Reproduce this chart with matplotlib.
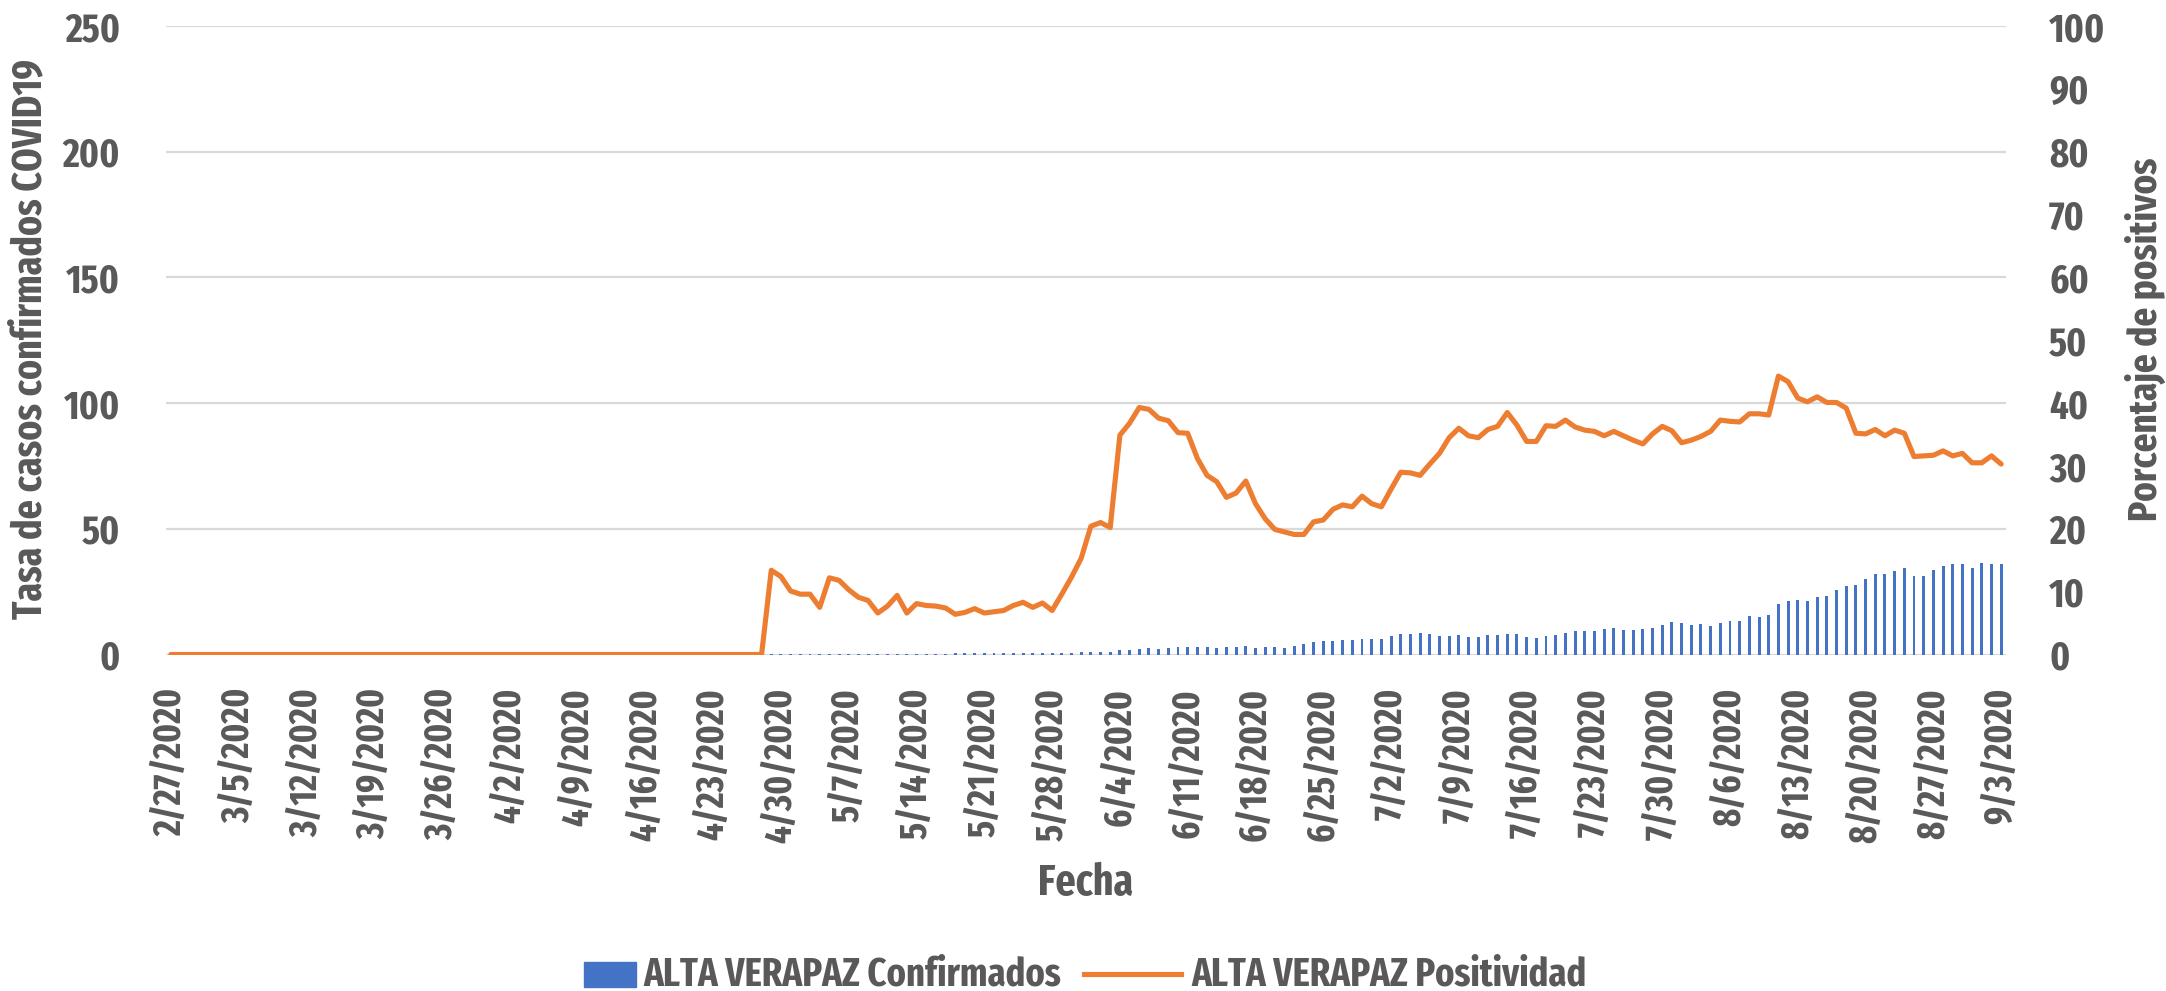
import numpy as np
import pandas as pd
import matplotlib
matplotlib.use("Agg")
import matplotlib.pyplot as plt
from matplotlib.patches import Rectangle
from matplotlib.lines import Line2D

plt.rcParams['font.family'] = ['Fira Sans Extra Condensed', 'Barlow Condensed', 'DejaVu Sans']
plt.rcParams['font.stretch'] = 'condensed'
plt.rcParams['font.weight'] = 'bold'

# ---------------- data ----------------
dates = pd.date_range('2020-02-27', '2020-09-03', freq='D')

tick_labels = ["2/27/2020", "3/5/2020", "3/12/2020", "3/19/2020", "3/26/2020",
               "4/2/2020", "4/9/2020", "4/16/2020", "4/23/2020", "4/30/2020",
               "5/7/2020", "5/14/2020", "5/21/2020", "5/28/2020", "6/4/2020",
               "6/11/2020", "6/18/2020", "6/25/2020", "7/2/2020", "7/9/2020",
               "7/16/2020", "7/23/2020", "7/30/2020", "8/6/2020", "8/13/2020",
               "8/20/2020", "8/27/2020", "9/3/2020"]

# Tasa de casos confirmados (left axis)
confirmados = ([0.0] * 62 +
    [0.05, 0.05, 0.05, 0.05, 0.05, 0.05,                 # 4/29 - 5/4
     0.15, 0.15, 0.15, 0.15, 0.15, 0.15, 0.15,           # 5/5 - 5/11
     0.3, 0.3, 0.3, 0.3, 0.3, 0.3,                       # 5/12 - 5/17
     0.4, 0.4, 0.4, 0.4, 0.4, 0.4,                       # 5/18 - 5/23
     0.5, 0.5, 0.5, 0.5, 0.7, 0.7, 0.7, 0.9, 1.0,        # 5/24 - 6/1
     0.9, 0.9, 1.9, 1.9, 2.1, 2.4, 2.0, 2.4, 2.8, 2.8,   # 6/2 - 6/11
     3.1, 2.8, 2.5, 2.8, 2.9, 3.3, 2.4, 2.8, 2.8, 2.4,   # 6/12 - 6/21
     3.3, 4.3, 4.9, 5.2, 5.5, 5.7, 5.7, 6.0, 6.3, 6.3,   # 6/22 - 7/1
     7.4, 8.2, 8.2, 8.5, 8.2, 7.2, 7.2, 7.6, 7.0, 6.8,   # 7/2 - 7/11
     7.6, 7.8, 8.0, 8.2, 7.0, 6.5, 7.3, 7.8, 8.5, 9.3,   # 7/12 - 7/21
     9.3, 9.3, 10.0, 10.6, 9.8, 9.8, 10.1, 10.6, 11.6, 12.9,  # 7/22 - 7/31
     12.6, 11.8, 12.1, 11.4, 12.6, 13.3, 13.2, 15.2, 14.9, 15.6,  # 8/1 - 8/10
     20.2, 21.3, 21.5, 21.3, 22.7, 23.1, 25.8, 27.1, 27.8, 30.2,  # 8/11 - 8/20
     31.9, 32.2, 33.2, 34.4, 31.3, 31.3, 33.5, 35.1, 35.8, 35.8,  # 8/21 - 8/30
     34.6, 36.2, 35.8, 36.0])                                # 8/31 - 9/3

# Porcentaje de positivos (right axis)
positividad = ([0.0] * 62 +
    [13.4, 12.4, 10.1, 9.6, 9.6, 7.5, 12.2, 11.8, 10.3, 9.1,     # 4/29 - 5/8
     8.6, 6.6, 7.7, 9.4, 6.6, 8.1, 7.8, 7.7, 7.4, 6.4,           # 5/9 - 5/18
     6.7, 7.3, 6.6, 6.8, 7.0, 7.8, 8.3, 7.5, 8.2, 7.0,           # 5/19 - 5/28
     9.6, 12.3, 15.3, 20.4, 21.0, 20.2, 34.9, 36.8, 39.3, 39.0,  # 5/29 - 6/7
     37.6, 37.2, 35.3, 35.2, 31.2, 28.5, 27.5, 25.0, 25.7, 27.6, # 6/8 - 6/17
     24.0, 21.6, 19.9, 19.5, 19.1, 19.1, 21.1, 21.4, 23.1, 23.8, # 6/18 - 6/27
     23.5, 25.2, 24.0, 23.5, 26.3, 29.0, 28.9, 28.5, 30.3, 32.0, # 6/28 - 7/7
     34.5, 36.0, 34.8, 34.5, 35.8, 36.3, 38.5, 36.5, 33.9, 33.9, # 7/8 - 7/17
     36.4, 36.3, 37.3, 36.2, 35.7, 35.5, 34.8, 35.5, 34.8, 34.1, # 7/18 - 7/27
     33.5, 35.1, 36.3, 35.6, 33.7, 34.1, 34.7, 35.5, 37.3, 37.1, # 7/28 - 8/6
     37.0, 38.3, 38.3, 38.1, 44.3, 43.4, 40.8, 40.2, 41.0, 40.1, # 8/7 - 8/16
     40.1, 39.2, 35.2, 35.1, 35.8, 34.8, 35.7, 35.2, 31.5, 31.6, # 8/17 - 8/26
     31.7, 32.4, 31.6, 32.0, 30.5, 30.5, 31.6, 30.3])            # 8/27 - 9/3

left_ticks = [0, 50, 100, 150, 200, 250]
right_ticks = [0, 10, 20, 30, 40, 50, 60, 70, 80, 90, 100]

# ---------------- style ----------------
TEXT = '#595959'
GRID = '#D9D9D9'
BLUE = '#4472C4'
ORANGE = '#ED7D31'
W, H = 2166, 991

fig = plt.figure(figsize=(W / 100, H / 100), dpi=100)
ax = fig.add_axes([166 / W, (H - 654.5) / H, 1840 / W, 628.5 / H])
ax2 = ax.twinx()

x = np.arange(len(dates))
ax.bar(x, confirmados, width=0.3, color=BLUE, zorder=2)
ax2.plot(x, positividad, color=ORANGE, lw=3.7, solid_joinstyle='round',
         solid_capstyle='round', zorder=3)

ax.set_xlim(-0.5, len(dates) - 0.5)
ax.set_ylim(0, 250)
ax2.set_ylim(0, 100)

ax.set_yticks(left_ticks)
ax.set_yticklabels([str(t) for t in left_ticks])
ax2.set_yticks(right_ticks)
ax2.set_yticklabels([str(t) for t in right_ticks])

tick_pos = [dates.get_loc(pd.to_datetime(t, format='%m/%d/%Y')) for t in tick_labels]
ax.set_xticks(tick_pos)
ax.set_xticklabels(tick_labels, rotation=90, va='top', ha='center')

ax.grid(axis='y', color=GRID, lw=1.6, zorder=0)
ax.set_axisbelow(True)
for a in (ax, ax2):
    for s in a.spines.values():
        s.set_visible(False)
    a.tick_params(length=0, colors=TEXT)
ax.tick_params(axis='y', labelsize=28.5, pad=33)
ax2.tick_params(axis='y', labelsize=28.5, pad=31)
ax.tick_params(axis='x', labelsize=27, pad=24)
for lab in ax.get_xticklabels() + ax.get_yticklabels() + ax2.get_yticklabels():
    lab.set_fontweight('bold')
    lab.set_color(TEXT)
ax2.patch.set_visible(False)

fig.text(30 / W, (H - 339) / H, 'Tasa de casos confirmados COVID19', rotation=90,
         ha='center', va='center', fontsize=29.5, fontweight='bold', color=TEXT)
fig.text(2145 / W, (H - 339) / H, 'Porcentaje de positivos', rotation=90,
         ha='center', va='center', fontsize=29, fontweight='bold', color=TEXT)
fig.text(1086 / W, (H - 884) / H, 'Fecha', ha='center', va='center',
         fontsize=31, fontweight='bold', color=TEXT)

# legend (drawn manually to match the Excel layout)
fig.add_artist(Rectangle((584 / W, (H - 987) / H), 52 / W, 25 / H,
                         transform=fig.transFigure, color=BLUE))
fig.text(643 / W, (H - 985) / H, 'ALTA VERAPAZ Confirmados', ha='left', va='baseline',
         fontsize=28.5, fontweight='bold', color=TEXT)
fig.add_artist(Line2D([1084 / W, 1181 / W], [(H - 974) / H] * 2,
                      transform=fig.transFigure, color=ORANGE, lw=3.7))
fig.text(1191 / W, (H - 985) / H, 'ALTA VERAPAZ Positividad', ha='left', va='baseline',
         fontsize=28.5, fontweight='bold', color=TEXT)

fig.savefig('out.png', dpi=100, facecolor='white')
